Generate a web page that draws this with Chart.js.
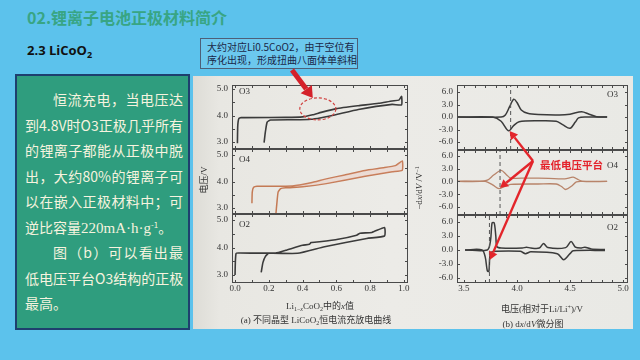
<!DOCTYPE html>
<html><head><meta charset="utf-8">
<script src="https://cdn.jsdelivr.net/npm/chart.js@4.4.0/dist/chart.umd.min.js"></script>
<style>
html,body{margin:0;padding:0;}
body{width:640px;height:360px;overflow:hidden;position:relative;background:#5cc2ec;font-family:"Noto Sans CJK SC",sans-serif;}
.abs{position:absolute;white-space:nowrap;}
#title{left:27px;top:5px;font-size:16px;font-weight:bold;color:#38a584;line-height:24px;}
#sub{left:27px;top:41px;font-family:"Open Sans",sans-serif;font-weight:bold;font-size:13px;color:#111;line-height:18px;}
#sub sub{font-size:9px;vertical-align:-3px;}
#box{left:15px;top:74px;width:171px;height:252px;background:#2f9d7e;border:2px solid #1e3f6e;}
#boxtext{left:8px;top:11px;width:158px;color:#f6f3df;font-size:14px;}
#boxtext div{height:25.5px;line-height:25.5px;white-space:nowrap;}
#boxtext .j{text-align:justify;text-align-last:justify;}
#boxtext sup{font-size:8px;vertical-align:5px;line-height:0;}
#boxtext .s{font-family:"Liberation Serif",serif;font-size:15px;}
#photo{left:193px;top:76px;width:440px;height:253px;background:linear-gradient(90deg,#dddcd6 0%,#e8e7e2 6%,#ecebe7 45%,#e9e9e5 100%);}
#note{left:200px;top:38px;border:1px solid #4d5f78;background:#6cc8ee;color:#1b2747;font-size:10px;line-height:13px;padding:1px 0 0 6px;box-sizing:border-box;width:158px;height:31px;}
canvas{position:absolute;}
.lbl{position:absolute;white-space:nowrap;font-family:"Liberation Serif","Noto Sans CJK SC",serif;font-size:9px;color:#333;transform:translate(-50%,-50%);}
.lbl sub{font-size:6px;vertical-align:-2px;}
.lbl sup{font-size:6px;vertical-align:3px;}
#red{left:540px;top:158px;color:#e4222b;font-weight:bold;font-size:10.5px;line-height:14px;}
svg{position:absolute;left:0;top:0;}
</style></head>
<body>
<div id="title" class="abs">02.锂离子电池正极材料简介</div>
<div id="sub" class="abs">2.3 LiCoO<sub>2</sub></div>
<div id="box" class="abs"><div id="boxtext" class="abs">
<div class="j" style="padding-left:28px">恒流充电，当电压达</div>
<div class="j">到4.8V时O3正极几乎所有</div>
<div class="j">的锂离子都能从正极中脱</div>
<div class="j">出，大约80%的锂离子可</div>
<div class="j">以在嵌入正极材料中；可</div>
<div>逆比容量<span class="s">220mA·h·g</span><sup>-1</sup>。</div>
<div class="j" style="padding-left:28px">图（b）可以看出最</div>
<div class="j">低电压平台O3结构的正极</div>
<div>最高。</div>
</div></div>
<div id="photo" class="abs"></div>
<div id="note" class="abs">大约对应Li0.5CoO2，由于空位有<br>序化出现，形成扭曲八面体单斜相</div>

<canvas id="L3" width="206" height="74" style="left:205px;top:80px"></canvas>
<canvas id="L4" width="206" height="75" style="left:205px;top:144px"></canvas>
<canvas id="L2" width="206" height="90" style="left:205px;top:209px"></canvas>
<canvas id="R3" width="201" height="75" style="left:430px;top:80px"></canvas>
<canvas id="R4" width="201" height="75" style="left:430px;top:145px"></canvas>
<canvas id="R2" width="201" height="89" style="left:430px;top:210px"></canvas>

<div class="lbl" style="left:203px;top:180px;transform:translate(-50%,-50%) rotate(-90deg)">电压/V</div>
<div class="lbl" style="left:419px;top:188px;transform:translate(-50%,-50%) rotate(-90deg)">−d<i>x</i>/d<i>V</i> /V<sup>−1</sup></div>
<div class="lbl" style="left:320px;top:305px">Li<sub>1−<i>x</i></sub>CoO<sub>2</sub>中的<i>x</i>值</div>
<div class="lbl" style="left:316px;top:319px">(a) 不同晶型 LiCoO<sub>2</sub>恒电流充放电曲线</div>
<div class="lbl" style="left:542px;top:308px">电压(相对于Li/Li<sup>+</sup>)/V</div>
<div class="lbl" style="left:533px;top:323px">(b) d<i>x</i>/d<i>V</i>微分图</div>
<div id="red" class="abs">最低电压平台</div>
<svg id="ov" width="640" height="360"></svg>

<script>
// ---------------- data ----------------
// (a) charge/discharge curves: x in Li(1-x)CoO2, voltage V
const aO3ChargeX = [0.014,0.016,0.022,0.035,0.30,0.40,0.46,0.51,0.60,0.73,0.85,0.93,0.97,0.986];
const aO3ChargeV = [2.96,3.60,3.88,3.92,3.93,3.95,4.03,4.12,4.26,4.37,4.46,4.55,4.58,4.72];
const aO3DischX  = [0.986,0.93,0.73,0.59,0.51,0.45,0.35,0.21,0.19,0.18,0.172];
const aO3DischV  = [4.40,4.42,4.23,4.02,3.92,3.86,3.84,3.83,3.75,3.40,2.98];

const aO4ChargeX = [0.100,0.102,0.110,0.130,0.34,0.45,0.54,0.65,0.77,0.88,0.95,0.99];
const aO4ChargeV = [3.18,3.60,3.78,3.82,3.83,3.95,4.10,4.25,4.42,4.52,4.60,4.78];
const aO4DischX  = [0.99,0.93,0.77,0.54,0.40,0.30,0.27,0.255,0.248,0.242];
const aO4DischV  = [4.43,4.37,4.20,3.92,3.80,3.76,3.73,3.60,3.20,2.78];

const aO2ChargeX = [0.000,0.002,0.006,0.020,0.24,0.30,0.40,0.44,0.45,0.50,0.61,0.72,0.74,0.81,0.885];
const aO2ChargeV = [3.00,3.50,3.78,3.80,3.80,3.90,4.08,4.12,4.18,4.21,4.30,4.45,4.52,4.55,4.73];
const aO2DischX  = [0.885,0.78,0.53,0.37,0.20,0.18,0.165,0.155];
const aO2DischV  = [4.42,4.33,4.03,3.79,3.79,3.68,3.45,3.10];

// (b) dx/dV curves: voltage V, -dx/dV
const bO3ChargeV = [3.44,3.85,3.89,3.93,3.97,4.00,4.04,4.10,4.20,4.40,4.50,4.61,4.68,4.75,4.85];
const bO3ChargeD = [0,0,0.5,2.5,4.3,3.5,1.7,0.9,0.6,0.5,0.7,1.3,0.7,0.1,0];
const bO3DischV  = [3.44,3.77,3.85,3.92,3.97,4.02,4.20,4.37,4.43,4.50,4.55,4.58,4.65,4.85];
const bO3DischD  = [0,0,-1.0,-3.3,-2.0,-1.1,-0.9,-1.0,-1.8,-2.7,-1.2,-0.2,0,0];

const bO4ChargeV = [3.44,3.65,3.72,3.78,3.85,3.90,3.94,4.10,4.30,4.45,4.53,4.58,4.62,4.85];
const bO4ChargeD = [0,0,0.3,1.5,2.6,1.6,0.8,0.8,0.7,0.6,1.0,0.4,0,0];
const bO4DischV  = [3.44,3.70,3.77,3.83,3.88,3.94,4.20,4.37,4.42,4.46,4.52,4.56,4.62,4.85];
const bO4DischD  = [0,0,-0.8,-1.7,-1.2,-0.7,-0.6,-0.6,-1.2,-1.9,-1.0,-0.1,0,0];

const bO2ChargeV = [3.51,3.72,3.75,3.765,3.785,3.80,3.81,3.85,4.05,4.09,4.13,4.21,4.25,4.29,4.46,4.51,4.55,4.60,4.64,4.70,4.83];
const bO2ChargeD = [0,0,2.0,5.8,5.8,3.0,0.7,0.4,0.4,0.6,0.4,0.4,1.4,0.5,0.5,1.8,0.6,0.4,0.6,0.2,0.1];
const bO2DischV  = [3.51,3.67,3.70,3.72,3.735,3.75,3.80,4.03,4.08,4.13,4.38,4.44,4.50,4.53,4.83];
const bO2DischD  = [0,0,-1.5,-4.5,-4.6,-0.7,-0.3,-0.3,-0.8,-0.4,-0.8,-2.1,-0.8,-0.2,-0.1];

// lowest-voltage plateau markers (dashed lines), V
const plateauV = {O3:3.94, O4:3.84, O2:3.74};
// annotation anchors (data units)
const ellipseAt = {x:0.49, v:4.25};
const arrowTo = {O3:[3.93,-3.36], O4:[3.84,-1.5], O2:[3.745,-2.1]};

// tick labels
const aXLabels = ['0.0','0.2','0.4','0.6','0.8','1.0'];
const aYLabels = ['3.0','4.0','5.0'];
const bXLabels = ['3.5','4.0','4.5','5.0'];
const bYLabels = ['-6.0','-3.0','0.0','3.0','6.0'];

// ---------------- helpers ----------------
const pts = (xs, ys) => xs.map((x,i)=>({x, y:ys[i]}));
const dark = '#3b3b3b', orange = '#c47a55', orangeR = '#b8846a';
const fmt = v => (Math.abs(v) < 1e-9 ? 0 : v).toFixed(1);

const frameTicks = {
  id:'frameTicks',
  afterDatasetsDraw(chart, args, o){
    const {ctx, chartArea:a, scales:{x,y}} = chart;
    ctx.save();
    ctx.strokeStyle = '#4a4a4a'; ctx.lineWidth = 1;
    ctx.strokeRect(Math.round(a.left)+0.5, Math.round(a.top)+0.5, Math.round(a.right-a.left)-1, Math.round(a.bottom-a.top)-1);
    ctx.beginPath();
    x.ticks.forEach(t=>{const p=Math.round(x.getPixelForValue(t.value))+0.5;
      ctx.moveTo(p,a.bottom); ctx.lineTo(p,a.bottom-3); ctx.moveTo(p,a.top); ctx.lineTo(p,a.top+3);});
    y.ticks.forEach(t=>{const p=Math.round(y.getPixelForValue(t.value))+0.5;
      ctx.moveTo(a.left,p); ctx.lineTo(a.left+3,p); ctx.moveTo(a.right,p); ctx.lineTo(a.right-3,p);});
    ctx.stroke();
    ctx.fillStyle = '#333'; ctx.font = '9px "Liberation Serif", serif';
    ctx.textAlign='right'; ctx.textBaseline='middle';
    y.ticks.forEach(t=>{const s=fmt(t.value); if (o.yLabels.includes(s)) ctx.fillText(s, a.left-4, y.getPixelForValue(t.value));});
    if (o.showX){
      ctx.textAlign='center'; ctx.textBaseline='top';
      x.ticks.forEach(t=>{const s=fmt(t.value); if (o.xLabels.includes(s)) ctx.fillText(s, x.getPixelForValue(t.value), a.bottom+1);});
    }
    if (o.tag){
      ctx.textBaseline='middle';
      if (o.side==='left'){ ctx.textAlign='left'; ctx.fillText(o.tag, a.left+7, a.top+o.dy); }
      else { ctx.textAlign='right'; ctx.fillText(o.tag, a.right-10, a.top+o.dy); }
    }
    ctx.restore();
  }
};
Chart.register(frameTicks);

function panel(id, datasets, xr, yr, pad, showX, xLabels, yLabels, xStep, yStep, tag, side, dy){
  return new Chart(document.getElementById(id), {
    type:'line',
    data:{datasets},
    options:{
      responsive:false, animation:false, events:[],
      layout:{padding:pad},
      elements:{point:{radius:0}},
      plugins:{legend:{display:false}, tooltip:{enabled:false}, frameTicks:{tag, side, dy, showX, xLabels, yLabels}},
      scales:{
        x:{type:'linear', display:false, min:xr[0], max:xr[1], ticks:{stepSize:xStep, includeBounds:false, autoSkip:false}},
        y:{type:'linear', display:false, min:yr[0], max:yr[1], ticks:{stepSize:yStep, includeBounds:false, autoSkip:false}}
      }
    }
  });
}

function loop(cx, cy, dx, dy, color, w){
  return {data:pts(cx,cy).concat(pts(dx,dy)), borderColor:color, borderWidth:w, fill:false, tension:0.15};
}
function fillShape(cx, cy, dx, dy, color){
  const d = pts(cx,cy).filter(p=>p.x>=0.34).concat(pts(dx,dy).filter(p=>p.x>=0.34));
  return {data:d, borderWidth:0, borderColor:'rgba(0,0,0,0)', backgroundColor:color, fill:'shape', tension:0.15};
}
function curve(xs, ys, color, w){
  return {data:pts(xs,ys), borderColor:color, borderWidth:w, fill:false, tension:0.3};
}
function dashLine(v, yr){
  return {data:[{x:v,y:yr[0]},{x:v,y:yr[1]}], borderColor:'#555', borderWidth:1, borderDash:[4,3], fill:false};
}

const aX = [-0.018, 1.024];
const bX = [3.434, 5.047];
const yL3 = [2.74,5.15], yL4 = [2.77,5.23], yL2 = [2.71,5.22];
const yR3 = [-7.9,7.7], yR4 = [-7.9,7.4], yR2 = [-7.1,7.5];
const padTop = {left:27,right:3,top:5,bottom:5};
const padBot = {left:27,right:3,top:5,bottom:16};

const L3 = panel('L3', [loop(aO3ChargeX,aO3ChargeV,aO3DischX,aO3DischV,dark,1.6)], aX, yL3, padTop, false, aXLabels, aYLabels, 0.1, 0.5, 'O3','left',7);
const L4 = panel('L4', [fillShape(aO4ChargeX,aO4ChargeV,aO4DischX,aO4DischV,'rgba(235,170,150,0.22)'),
                        loop(aO4ChargeX,aO4ChargeV,aO4DischX,aO4DischV,orange,1.5)], aX, yL4, padTop, false, aXLabels, aYLabels, 0.1, 0.5, 'O4','left',11);
const L2 = panel('L2', [loop(aO2ChargeX,aO2ChargeV,aO2DischX,aO2DischV,dark,1.6)], aX, yL2, padBot, true, aXLabels, aYLabels, 0.1, 0.5, 'O2','left',11);

const R3 = panel('R3', [dashLine(plateauV.O3,yR3), curve(bO3ChargeV,bO3ChargeD,dark,1.5), curve(bO3DischV,bO3DischD,dark,1.5)], bX, yR3, padTop, false, bXLabels, bYLabels, 0.1, 3, 'O3','right',10);
const R4 = panel('R4', [dashLine(plateauV.O4,yR4), curve(bO4ChargeV,bO4ChargeD,orangeR,1.3), curve(bO4DischV,bO4DischD,orangeR,1.3)], bX, yR4, padTop, false, bXLabels, bYLabels, 0.1, 3, 'O4','right',16);
const R2 = panel('R2', [dashLine(plateauV.O2,yR2), curve(bO2ChargeV,bO2ChargeD,dark,1.5), curve(bO2DischV,bO2DischD,dark,1.5)], bX, yR2, padBot, true, bXLabels, bYLabels, 0.1, 3, 'O2','right',13);

// ---------------- annotation overlay ----------------
function page(chart, x, y){
  const c = chart.canvas;
  return [c.offsetLeft + chart.scales.x.getPixelForValue(x), c.offsetTop + chart.scales.y.getPixelForValue(y)];
}
const NS='http://www.w3.org/2000/svg', svg=document.getElementById('ov');
function el(tag, attrs){const e=document.createElementNS(NS,tag); for(const k in attrs) e.setAttribute(k,attrs[k]); svg.appendChild(e); return e;}
function arrow(x1,y1,x2,y2,w,hl,hw,color){
  const dx=x2-x1, dy=y2-y1, L=Math.hypot(dx,dy), ux=dx/L, uy=dy/L;
  const bx=x2-ux*hl, by=y2-uy*hl;
  el('line',{x1,y1,x2:bx,y2:by,stroke:color,'stroke-width':w,'stroke-linecap':'butt'});
  el('polygon',{points:`${x2},${y2} ${bx-uy*hw},${by+ux*hw} ${bx+uy*hw},${by-ux*hw}`,fill:color});
}
const ec = page(L3, ellipseAt.x, ellipseAt.v);
el('ellipse',{cx:ec[0],cy:ec[1],rx:18,ry:11,fill:'none',stroke:'#d0413f','stroke-width':1.2,'stroke-dasharray':'3,2'});
arrow(292,70, ec[0]-5, ec[1]-11, 5, 11, 7, '#d4212a');

const origin=[533,161];
[[R3,arrowTo.O3],[R4,arrowTo.O4],[R2,arrowTo.O2]].forEach(([ch,p])=>{
  const q = page(ch, p[0], p[1]);
  arrow(origin[0],origin[1],q[0],q[1],2.4,8,4.5,'#e3252b');
});
</script>
</body></html>
